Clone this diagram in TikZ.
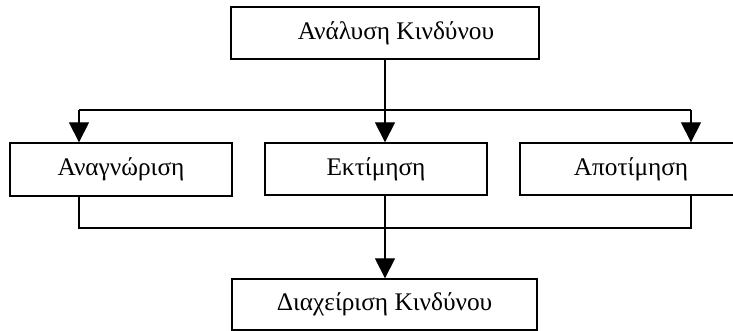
\documentclass[tikz,border=0pt]{standalone}
\usepackage{fontspec}
\setmainfont{Liberation Serif}
\usetikzlibrary{arrows.meta}
\tikzstyle{bx}=[draw, line width=1pt, inner sep=0, font=\fontsize{19}{22}\selectfont]
\tikzstyle{arr}=[line width=1pt, -{Triangle[length=15pt,width=15pt]}]

\begin{document}
\begin{tikzpicture}[x=0.75pt, y=-0.75pt, line width=1pt]
\useasboundingbox (0,0) rectangle (733,331);
\node at (385,33)[bx, minimum width=231pt, minimum height=39pt](0){\hspace*{16.5pt}Ανάλυση Κινδύνου};
\node at (121,169.5)[bx, minimum width=166.5pt, minimum height=39.75pt](1){Αναγνώριση};
\node at (376,169)[bx, minimum width=166.5pt, minimum height=39pt](2){Εκτίμηση};
\node at (631,169)[bx, minimum width=166.5pt, minimum height=39pt](3){Αποτίμηση};
\node at (384.5,304.5)[bx, minimum width=228.75pt, minimum height=38.25pt](4){Διαχείριση Κινδύνου};
\coordinate (l) at (79,110);
\coordinate (r) at (691,110);
\coordinate (lj) at (79,228);
\coordinate (rj) at (691,228);
\draw[arr] (0.south)--(0.south |- 2.north);
\draw (l)--(r);
\draw[arr] (l)--(l |- 1.north);
\draw[arr] (r)--(r |- 3.north);
\draw (l |- 1.south)--(lj)--(rj)--(r |- 3.south);
\draw[arr] (0.south |- 2.south)--(0.south |- 4.north);
\end{tikzpicture}
\end{document}
